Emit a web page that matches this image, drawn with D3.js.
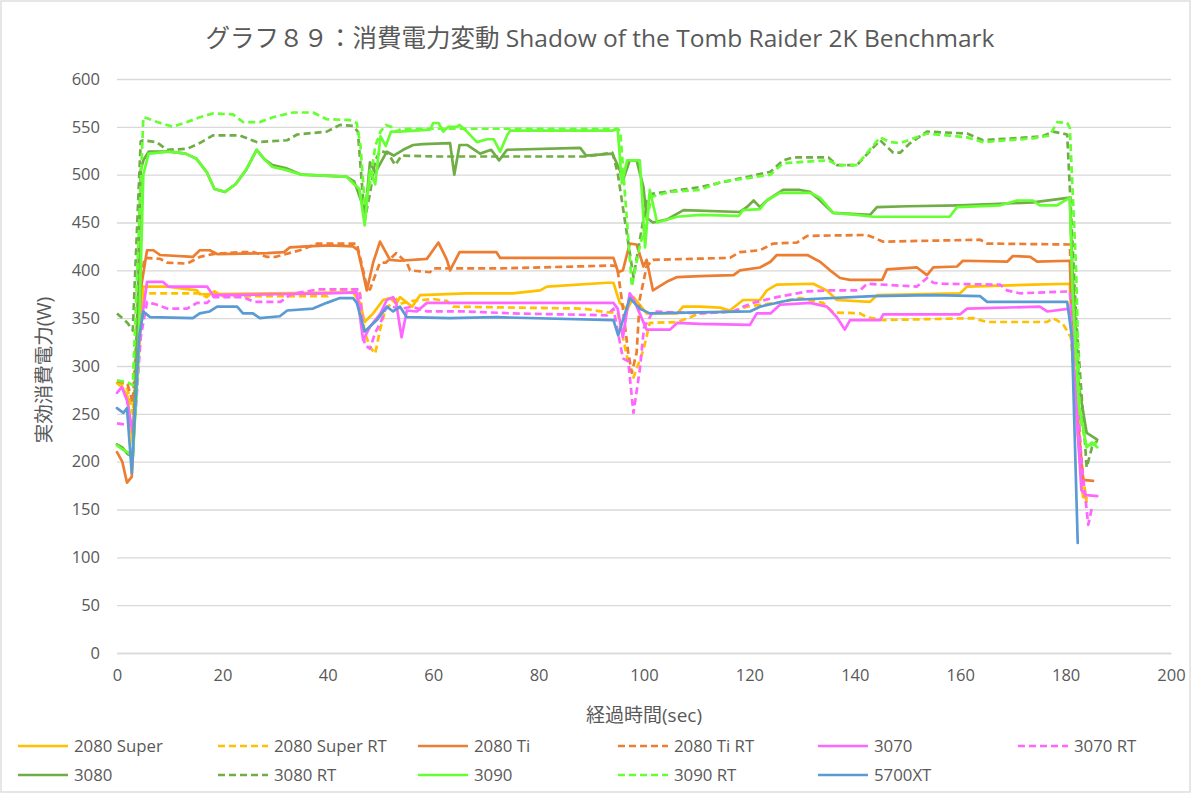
<!DOCTYPE html>
<html><head><meta charset="utf-8">
<script src="https://cdn.jsdelivr.net/npm/d3@7"></script>
<style>body{margin:0;background:#fff}svg{display:block}text{font-family:"Open Sans","Noto Sans CJK JP",sans-serif;fill:#595959}</style>
</head><body>
<svg id="c" width="1200" height="795"></svg>
<script>
const titleText = "グラフ８９：消費電力変動 Shadow of the Tomb Raider 2K Benchmark";
const xTitle = "経過時間(sec)";
const yTitle = "実効消費電力(W)";
const xTicks = [0,20,40,60,80,100,120,140,160,180,200];
const yTicks = [0,50,100,150,200,250,300,350,400,450,500,550,600];
const seriesNames = ["2080 Super","2080 Super RT","2080 Ti","2080 Ti RT","3070","3070 RT","3080","3080 RT","3090","3090 RT","5700XT"];
const seriesColors = ["#FFC000","#FFC000","#ED7D31","#ED7D31","#FF66FF","#FF66FF","#70AD47","#70AD47","#66FF33","#66FF33","#5B9BD5"];
const seriesDashed = [false,true,false,true,false,true,false,true,false,true,false];

// [time(sec), power(W)]
const s2080Super = [[0,282],[1,278],[2,268],[3,218],[4,300],[5,383],[9.5,383],[15.2,379],[15.7,375],[44.8,377],[46.1,366],[47,346],[48.6,355],[50.5,369],[51.8,371],[53,365],[53.7,372],[56,362],[57.5,374],[66.4,376],[75.1,376],[80.3,379],[81.6,383],[93,387],[94.2,387],[95.4,366],[96.8,359],[98,372],[100.5,355],[106.3,355],[107.4,362],[110.6,362],[114.4,361],[116.3,358],[118.8,369],[122,369],[123.3,379],[125.2,385],[132.1,386],[134.7,379],[136.6,369],[142.9,367],[144.2,374],[160,376],[161.3,383],[173.8,385],[180.8,386],[182,250],[183.3,163],[184,162]];
const s2080SuperRT = [[0,283],[1,281],[2,276],[3,250],[4,330],[5,376],[15.7,376],[17,372],[18.5,378],[20,373],[40,373],[41,380],[46,380],[47,335],[48,320],[49,313],[50,340],[51,360],[52,365],[53,370],[53.7,365],[56,368],[60,370],[62.6,368],[63.8,362],[88.5,360],[93,356],[95,356],[97.3,296],[98,288],[99.9,317],[101.1,345],[106.3,346],[108.8,351],[110.6,355],[117,357],[119.5,362],[122,364],[125.2,366],[129.6,371],[134,366],[135.9,356],[141,355],[142.3,351],[145.4,348],[162.5,350],[165.1,346],[176.5,346],[177.6,350],[179.5,344],[181,330],[182.5,220],[184,157]];
const s2080Ti = [[0,210],[1,200],[1.9,178],[2.8,184],[3.5,260],[4.5,380],[5.7,421],[6.9,421],[8.2,416],[14.4,414],[15.7,421],[17.6,421],[19,417],[28.5,418],[31.7,419],[32.8,424],[35.9,425],[40.4,426],[44.8,425],[45.7,421],[46.7,397],[47.4,379],[48.6,408],[49.9,430],[51.8,411],[53.7,410],[58.8,412],[61,429],[62.6,411],[63.2,400],[65,419],[72,419],[72.7,413],[94.2,413],[95.1,398],[96,400],[97.3,428],[98.6,427],[99.9,404],[100.5,411],[101.7,379],[104.3,388],[106.3,393],[110.6,394],[117,395],[118.2,400],[122,403],[124,409],[125.2,416],[131,416],[133.4,409],[135.3,400],[137.2,392],[139.1,390],[145.2,390],[146.1,401],[151.8,403],[153.7,395],[154.9,403],[159.4,404],[160.5,410],[168.9,409],[170,415],[173.3,414],[174.6,409],[180.8,410],[181.5,300],[183.3,181],[185.2,180]];
const s2080TiRT = [[0,284],[1,283],[2,281],[3,262],[4,360],[5.2,413],[8.2,412],[9.5,408],[13.3,407],[15.7,414],[18.2,417],[23.3,419],[26,419],[28.5,414],[30,414],[34.7,421],[38,428],[45.5,428],[46.5,405],[47.4,383],[48,380],[49.9,408],[51,408],[53,418],[55,408],[55.6,400],[59.4,398],[60,402],[72.7,402],[94.1,405],[94.9,404],[95.8,369],[97,314],[97.7,293],[98.6,314],[99.2,370],[100.5,404],[101.7,411],[116.3,413],[118.2,419],[122,421],[124.5,428],[129,429],[131,436],[142.3,437],[145.4,430],[163.8,432],[165.1,428],[180.8,427],[181.5,330],[183.3,176]];
const s3070 = [[0,272],[0.9,278],[1.9,264],[3,230],[4,320],[5.7,388],[8.7,388],[9.7,383],[17.1,383],[18.2,374],[30,375],[40,376],[45.5,377],[46.7,327],[48,341],[50,355],[51.2,369],[52.4,372],[53,365],[54,330],[55,358],[56.9,357],[58.8,366],[94.2,366],[95,360],[96,330],[97.3,376],[98,370],[100.5,338],[104.9,338],[106.3,345],[110.6,344],[120.1,343],[121.4,355],[124,355],[125.8,364],[131.5,366],[134.7,362],[136.6,351],[138.1,338],[139.1,348],[144.8,348],[145.4,354],[160,354],[161.3,360],[175.1,362],[176.5,357],[180.8,360],[181.5,300],[183,170],[184,165],[186,164]];
const s3070RT = [[0,240],[2.5,238],[3.5,250],[4.5,330],[5.7,367],[7.6,364],[9.5,360],[13.3,360],[15.2,366],[17.1,366],[18.2,372],[24,372],[26,367],[31,367],[33,375],[38,380],[46,380],[47,322],[48,318],[49,335],[50,345],[51,360],[52,362],[54,360],[56,362],[58.8,357],[66.4,357],[75,355],[93,353],[94.2,360],[96,308],[97,305],[98,251],[99.2,296],[100,340],[101.7,357],[110.6,355],[117,357],[118.8,362],[120.7,366],[125.2,372],[131,378],[134.7,379],[141,379],[142.3,386],[151.8,383],[153.7,392],[154.9,387],[156.8,386],[167.6,385],[168.9,379],[171.3,376],[180.8,378],[181.5,320],[183,200],[184.3,134],[185,152]];
const s3080 = [[0,218],[1,215],[2,208],[3,205],[4,380],[4.5,505],[5,515],[6,524],[10,524],[13,522],[15,517],[17,503],[18.5,485],[20.5,482],[22.5,490],[24.5,505],[26.5,526],[28,516],[29.5,510],[32,507],[35,500],[43.5,498],[45,493],[46.5,470],[47,452],[48,513],[49,502],[50,512],[51.2,524],[52.5,520],[54.3,526],[56.2,531],[58,532],[63.2,533],[64,500],[65,531],[66.5,531],[68.9,522],[71,526],[72.5,515],[74,526],[87.9,528],[89,520],[94,522],[95.4,505],[96,494],[97.3,515],[98.6,515],[99.9,487],[100.5,455],[101.7,450],[104.3,453],[107.5,463],[118.2,461],[119.5,466],[120.8,473],[122,466],[123.3,473],[126.4,484],[129.6,484],[131.5,482],[132.8,476],[135.9,460],[142.9,458],[144.2,466],[150,467],[160,468],[173.8,471],[180.8,476],[181.3,400],[182.5,280],[184,230],[186,223]];
const s3080RT = [[0,355],[1,350],[2,345],[3,337],[4,470],[4.5,535],[5,536],[7.5,534],[9.5,526],[13.3,527],[15.7,533],[18.2,541],[23.3,541],[26.6,534],[32.3,536],[34.2,542],[39.8,545],[42.3,552],[44.8,551],[45.7,545],[47,453],[48,480],[49,515],[50,525],[51.5,522],[52.8,510],[54,520],[60,519],[89,519],[94,523],[95,502],[98,393],[100.5,473],[101.5,480],[110.6,487],[124,503],[126.4,515],[128.3,518],[135,518],[136.6,510],[140.4,510],[144.8,536],[147.3,523],[148.6,523],[150.5,533],[153.7,545],[161.3,543],[164.3,536],[175.5,540],[177.6,545],[180.3,542],[180.8,487],[182,350],[184,194],[185,215],[186,222]];
const s3090 = [[0,217],[1,213],[2,210],[3,205],[4,300],[5,500],[6,522],[10,524],[13,522],[15,517],[17,503],[18.5,485],[20.5,482],[22.5,490],[24.5,505],[26.5,526],[28,516],[29.5,508],[32,505],[35,500],[43.5,498],[45,490],[46,485],[47,447],[48,505],[49,490],[50,540],[51,530],[52,545],[53.7,545],[59.4,547],[60,554],[61,554],[61.9,545],[62.9,550],[64.5,550],[65,552],[66.4,545],[68.3,534],[70.2,537],[71.5,537],[72.7,524],[74,541],[74.6,546],[94,546],[95,548],[95.8,491],[96.8,515],[97.3,515],[99.2,515],[99.6,481],[100.2,424],[101.1,484],[102.5,450],[106.3,456],[110.6,458],[118,457],[118.8,463],[122,464],[123.3,473],[125.8,481],[131.5,481],[133.4,476],[135.9,460],[140.4,458],[143.5,456],[158,456],[159.4,466],[167.6,468],[170.8,473],[173.8,473],[175.1,468],[178.4,468],[180.8,476],[181.3,380],[182.5,260],[184,215],[185,220],[186,215]];
const s3090RT = [[0,285],[2,283],[3,280],[4,420],[5,560],[5.7,559],[7.6,555],[10.6,550],[13.3,555],[15.7,560],[18.2,564],[22,563],[23.9,555],[27.1,555],[29.6,560],[33.4,565],[37.2,565],[39.8,558],[44.2,557],[45.5,554],[46.2,530],[47,470],[48,490],[49,530],[50,545],[51,552],[52,550],[53,545],[54,548],[95,548],[95.5,545],[97.7,383],[99,420],[101.5,477],[105,482],[110.6,484],[114.4,492],[124,500],[126.4,512],[135,515],[136.6,510],[140.4,510],[144.8,539],[146.7,534],[148.6,533],[153.7,543],[161.3,539],[164.3,534],[173.8,538],[177,541],[178.4,555],[180.3,554],[180.8,549],[182,400],[182.7,247],[184,215],[186,220]];
const s5700XT = [[0,256],[1.2,251],[1.9,256],[2.8,188],[3.5,260],[4.2,330],[5,357],[6.3,351],[14.4,350],[15.7,355],[17.6,357],[19,362],[22.8,362],[23.9,355],[25.8,355],[27.1,350],[30.9,352],[32.3,358],[37.2,360],[39.8,366],[42.3,371],[44.8,371],[45.5,366],[47,336],[49.3,348],[51.2,362],[52.4,357],[53.7,362],[55,351],[63.2,350],[72,351],[94.2,348],[95.1,332],[97.3,371],[99.2,360],[101.1,355],[120.1,357],[122,362],[127.7,369],[143.5,373],[154.9,374],[163.8,373],[165.1,367],[180.3,367],[181.2,330],[182.3,115]];
const seriesData = [s2080Super,s2080SuperRT,s2080Ti,s2080TiRT,s3070,s3070RT,s3080,s3080RT,s3090,s3090RT,s5700XT];

const svg = d3.select("#c");
svg.append("rect").attr("x",1).attr("y",1).attr("width",1189).attr("height",791)
  .attr("fill","#fff").attr("stroke","#d9d9d9").attr("stroke-width",1.3);

const x = d3.scaleLinear().domain([0,200]).range([117,1171]);
const y = d3.scaleLinear().domain([0,600]).range([653,79]);

const gy = svg.append("g").attr("transform","translate(117,0)")
  .call(d3.axisLeft(y).tickValues(yTicks).tickSize(-(1171-117)).tickPadding(17));
gy.select(".domain").remove();
gy.selectAll(".tick line").attr("stroke","#d9d9d9").attr("stroke-width",1.3);
gy.selectAll(".tick text").attr("font-size",16.5).style("fill","#595959");

const gx = svg.append("g").attr("transform","translate(0,653)")
  .call(d3.axisBottom(x).tickValues(xTicks).tickSize(0).tickPadding(16));
gx.select(".domain").attr("stroke","#d9d9d9").attr("stroke-width",1.3);
gx.selectAll(".tick text").attr("font-size",16.5).style("fill","#595959");

const line = d3.line().x(d=>x(d[0])).y(d=>y(d[1]));
seriesData.forEach((s,i)=>{
  svg.append("path").datum(s).attr("d",line).attr("fill","none")
    .attr("stroke",seriesColors[i]).attr("stroke-width",2.7)
    .attr("stroke-linejoin","round").attr("stroke-linecap", seriesDashed[i]?"butt":"round")
    .attr("stroke-dasharray",seriesDashed[i]?"7,4":null);
});

svg.append("text").attr("x",600).attr("y",47).attr("text-anchor","middle")
  .attr("font-size",24.5).text(titleText);
svg.append("text").attr("x",644).attr("y",722).attr("text-anchor","middle")
  .attr("font-size",19).text(xTitle);
svg.append("text").attr("transform","translate(51,370) rotate(-90)").attr("text-anchor","middle")
  .attr("font-size",19.5).text(yTitle);

const legX = [18,218,418,618,818,1018];
const legY = [746,775];
seriesNames.forEach((n,i)=>{
  const g = svg.append("g").attr("transform",`translate(${legX[i%6]},${legY[Math.floor(i/6)]})`);
  g.append("line").attr("x1",0).attr("x2",50).attr("y1",0).attr("y2",0)
    .attr("stroke",seriesColors[i]).attr("stroke-width",2.7)
    .attr("stroke-dasharray",seriesDashed[i]?"7,4":null);
  g.append("text").attr("x",56).attr("y",0).attr("dy","0.35em").attr("font-size",16.8).text(n);
});
</script>
</body></html>
